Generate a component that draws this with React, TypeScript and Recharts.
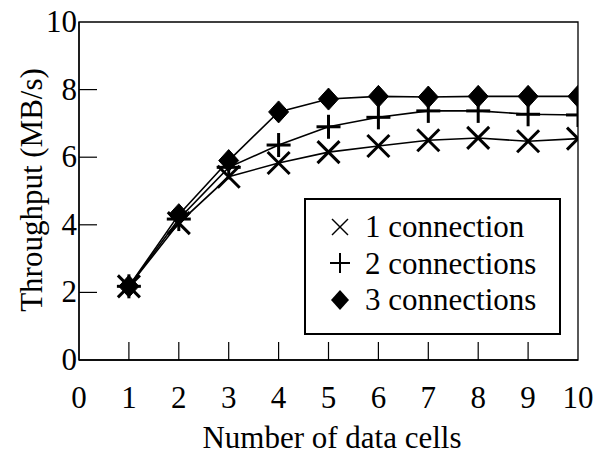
import React from "react";
import { LineChart, Line, XAxis, YAxis, Legend, ReferenceArea } from "recharts";

const cells = [1, 2, 3, 4, 5, 6, 7, 8, 9, 10];
const conn1 = [2.18, 4.05, 5.42, 5.83, 6.15, 6.33, 6.5, 6.57, 6.47, 6.55];
const conn2 = [2.18, 4.17, 5.7, 6.36, 6.9, 7.18, 7.37, 7.37, 7.27, 7.25];
const conn3 = [2.18, 4.3, 5.9, 7.34, 7.72, 7.8, 7.78, 7.8, 7.8, 7.8];
const xTicks = [0, 1, 2, 3, 4, 5, 6, 7, 8, 9, 10];
const yTicks = [0, 2, 4, 6, 8, 10];
const seriesNames = ["1 connection", "2 connections", "3 connections"];

const data = cells.map((c, i) => ({ cells: c, c1: conn1[i], c2: conn2[i], c3: conn3[i] }));

const FONT = "'Liberation Serif', 'Times New Roman', serif";

const Cross = (props: any) => {
  const { cx, cy, index } = props;
  if (cx == null || cy == null) return null;
  const s = 11;
  return (
    <g key={"x" + index}>
      <line x1={cx - s} y1={cy - s} x2={cx + s} y2={cy + s} stroke="#000" strokeWidth={3} />
      <line x1={cx - s} y1={cy + s} x2={cx + s} y2={cy - s} stroke="#000" strokeWidth={3} />
    </g>
  );
};
const Plus = (props: any) => {
  const { cx, cy, index } = props;
  if (cx == null || cy == null) return null;
  const s = 12;
  return (
    <g key={"p" + index}>
      <line x1={cx - s} y1={cy} x2={cx + s} y2={cy} stroke="#000" strokeWidth={3} />
      <line x1={cx} y1={cy - s} x2={cx} y2={cy + s} stroke="#000" strokeWidth={3} />
    </g>
  );
};
const Diamond = (props: any) => {
  const { cx, cy, index } = props;
  if (cx == null || cy == null) return null;
  const w = 10, h = 11;
  return (
    <path
      key={"d" + index}
      d={`M${cx},${cy - h} L${cx + w},${cy} L${cx},${cy + h} L${cx - w},${cy} Z`}
      fill="#000"
      stroke="#000"
      strokeWidth={1}
    />
  );
};

const renderXTick = (props: any) => {
  const { x, y, payload } = props;
  const v = payload.value;
  return (
    <g key={"xt" + v}>
      {v > 0 && v < 10 && <line x1={x} y1={y} x2={x} y2={y - 18} stroke="#000" strokeWidth={1.2} />}
      <text x={x} y={y + 48} textAnchor="middle" fontFamily={FONT} fontSize={31} fill="#000">
        {v}
      </text>
    </g>
  );
};
const renderYTick = (props: any) => {
  const { x, y, payload } = props;
  const v = payload.value;
  return (
    <g key={"yt" + v}>
      {v > 0 && v < 10 && <line x1={x} y1={y} x2={x + 18} y2={y} stroke="#000" strokeWidth={1.2} />}
      <text x={x - 2} y={y + 10} textAnchor="end" fontFamily={FONT} fontSize={31} fill="#000">
        {v}
      </text>
    </g>
  );
};

const LegendBox = () => {
  const rowStyle: React.CSSProperties = {
    position: "absolute",
    left: 0,
    height: 37,
    display: "flex",
    alignItems: "center",
  };
  const icons = [
    <svg width={24} height={24} key="a">
      <line x1={4} y1={4} x2={20} y2={20} stroke="#000" strokeWidth={1.5} />
      <line x1={4} y1={20} x2={20} y2={4} stroke="#000" strokeWidth={1.5} />
    </svg>,
    <svg width={24} height={24} key="b">
      <line x1={2} y1={12} x2={22} y2={12} stroke="#000" strokeWidth={2} />
      <line x1={12} y1={2} x2={12} y2={22} stroke="#000" strokeWidth={2} />
    </svg>,
    <svg width={24} height={24} key="c">
      <path d="M12,2 L21,12 L12,22 L3,12 Z" fill="#000" />
    </svg>,
  ];
  return (
    <div
      style={{
        position: "relative",
        width: 253,
        height: 133,
        border: "2px solid #000",
        background: "#fff",
        fontFamily: FONT,
        fontSize: 31,
        color: "#000",
      }}
    >
      {seriesNames.map((n, i) => (
        <div key={n} style={{ ...rowStyle, top: 8 + i * 36.5 }}>
          <div style={{ width: 24, marginLeft: 22, display: "flex" }}>{icons[i]}</div>
          <span style={{ marginLeft: 13, lineHeight: "37px", whiteSpace: "nowrap" }}>{n}</span>
        </div>
      ))}
    </div>
  );
};

export default function App() {
  return (
    <div style={{ position: "absolute", left: 0, top: 0, width: 600, height: 458, background: "#fff" }}>
      <LineChart width={600} height={458} data={data} margin={{ top: 22, right: 22, bottom: 97, left: 78 }}>
        <XAxis
          dataKey="cells"
          type="number"
          domain={[0, 10]}
          ticks={xTicks}
          height={1}
          tickSize={0}
          tickMargin={0}
          tickLine={false}
          axisLine={{ stroke: "#000", strokeWidth: 1.3 }}
          tick={renderXTick}
          interval={0}
          allowDataOverflow
        />
        <YAxis
          type="number"
          domain={[0, 10]}
          ticks={yTicks}
          width={1}
          tickSize={0}
          tickMargin={0}
          tickLine={false}
          axisLine={{ stroke: "#000", strokeWidth: 1.3 }}
          tick={renderYTick}
          interval={0}
          allowDataOverflow
        />
        <ReferenceArea x1={0} x2={10} y1={0} y2={10} fill="none" stroke="#000" strokeWidth={1.3} />
        <Line dataKey="c1" type="linear" stroke="#000" strokeWidth={1.6} dot={<Cross />} isAnimationActive={false} />
        <Line dataKey="c2" type="linear" stroke="#000" strokeWidth={1.6} dot={<Plus />} isAnimationActive={false} />
        <Line dataKey="c3" type="linear" stroke="#000" strokeWidth={1.6} dot={<Diamond />} isAnimationActive={false} />
        <Legend
          layout="horizontal"
          verticalAlign="middle"
          align="center"
          content={<LegendBox />}
          wrapperStyle={{ position: "absolute", left: 304, top: 198, width: 257, height: 137 }}
        />
        <text x={332} y={448} textAnchor="middle" fontFamily={FONT} fontSize={31} fill="#000">
          Number of data cells
        </text>
        <text
          x={42}
          y={190}
          textAnchor="middle"
          fontFamily={FONT}
          fontSize={31}
          fill="#000"
          transform="rotate(-90 42 190)"
        >
          Throughput (MB/s)
        </text>
      </LineChart>
    </div>
  );
}
